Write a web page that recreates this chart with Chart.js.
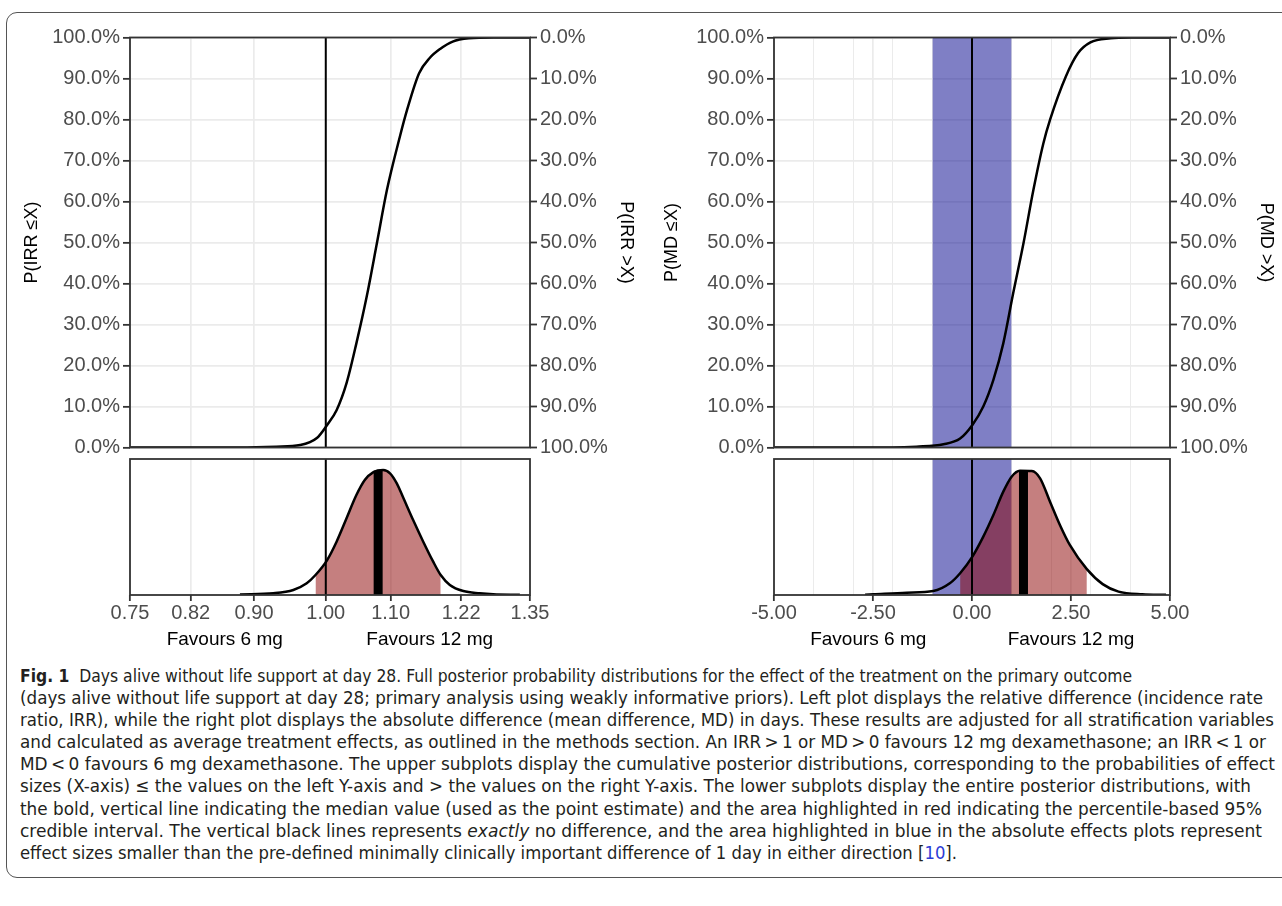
<!DOCTYPE html>
<html>
<head>
<meta charset="utf-8">
<script src="https://cdn.jsdelivr.net/npm/chart.js@4.4.1/dist/chart.umd.min.js"></script>
<style>
  body { margin: 0; background: #fff; width: 1282px; height: 906px; overflow: hidden; position: relative; font-family: "Liberation Sans", Arial, sans-serif; }
  #frame { position: absolute; left: 6px; top: 12px; width: 1300px; height: 864px; border: 1px solid #555; border-radius: 11px; }
  canvas { position: absolute; }
  #caption { position: absolute; left: 20px; top: 665px; font-family: "DejaVu Sans Condensed", "Liberation Sans", sans-serif; font-size: 18px; line-height: 22.1px; color: #231f20; white-space: nowrap; }
  #caption span.line { display: inline-block; transform-origin: 0 50%; }
  #caption .ref { color: #2b3bd6; }
</style>
</head>
<body>
<div id="frame"></div>
<canvas id="cdfIrr" width="640" height="470" style="left:0;top:0"></canvas>
<canvas id="denIrr" width="640" height="200" style="left:0;top:455px"></canvas>
<canvas id="cdfMd" width="640" height="470" style="left:640px;top:0"></canvas>
<canvas id="denMd" width="640" height="200" style="left:640px;top:455px"></canvas>
<div id="caption">
<div><span class="line"><b>Fig. 1</b>&nbsp; Days alive without life support at day 28. Full posterior probability distributions for the effect of the treatment on the primary outcome</span></div>
<div><span class="line">(days alive without life support at day 28; primary analysis using weakly informative priors). Left plot displays the relative difference (incidence rate</span></div>
<div><span class="line">ratio, IRR), while the right plot displays the absolute difference (mean difference, MD) in days. These results are adjusted for all stratification variables</span></div>
<div><span class="line">and calculated as average treatment effects, as outlined in the methods section. An IRR&thinsp;&gt;&thinsp;1 or MD&thinsp;&gt;&thinsp;0 favours 12 mg dexamethasone; an IRR&thinsp;&lt;&thinsp;1 or</span></div>
<div><span class="line">MD&thinsp;&lt;&thinsp;0 favours 6 mg dexamethasone. The upper subplots display the cumulative posterior distributions, corresponding to the probabilities of effect</span></div>
<div><span class="line">sizes (X-axis) ≤ the values on the left Y-axis and &gt; the values on the right Y-axis. The lower subplots display the entire posterior distributions, with</span></div>
<div><span class="line">the bold, vertical line indicating the median value (used as the point estimate) and the area highlighted in red indicating the percentile-based 95%</span></div>
<div><span class="line">credible interval. The vertical black lines represents <i>exactly</i> no difference, and the area highlighted in blue in the absolute effects plots represent</span></div>
<div><span class="line">effect sizes smaller than the pre-defined minimally clinically important difference of 1 day in either direction [<span class="ref">10</span>].</span></div>
</div>
<script>
// IRR (relative difference) - cumulative posterior
const cdfIrrX = [0.75, 0.88, 0.93, 0.963, 0.987, 1.002, 1.016, 1.031, 1.046, 1.062, 1.078, 1.094, 1.115, 1.127, 1.147, 1.165, 1.183, 1.205, 1.234, 1.28, 1.35];
const cdfIrrY = [0, 0, 0.002, 0.006, 0.023, 0.055, 0.091, 0.157, 0.254, 0.368, 0.498, 0.628, 0.758, 0.824, 0.913, 0.95, 0.972, 0.99, 0.998, 1.0, 1.0];
// IRR posterior density (relative height)
const denIrrX = [0.8815, 0.9258, 0.9534, 0.9724, 0.985, 1.002, 1.016, 1.031, 1.046, 1.059, 1.072, 1.088, 1.099, 1.110, 1.121, 1.137, 1.154, 1.171, 1.184, 1.200, 1.224, 1.254, 1.279, 1.33];
const denIrrY = [0.004, 0.0125, 0.037, 0.086, 0.147, 0.257, 0.392, 0.564, 0.735, 0.846, 0.902, 0.919, 0.895, 0.821, 0.711, 0.551, 0.392, 0.245, 0.147, 0.074, 0.029, 0.0125, 0.005, 0.001];
const irrMedian = 1.08, irrMedianDen = 0.915;
const irrCrI = [0.985, 1.184];
const irrTicks = [0.75, 0.82, 0.90, 1.00, 1.10, 1.22, 1.35];

// MD (absolute difference, days)
const cdfMdX = [-5, -2, -1.40, -0.72, -0.30, 0.01, 0.285, 0.54, 0.79, 1.04, 1.30, 1.55, 1.80, 1.97, 2.37, 2.68, 2.99, 3.5, 4.0, 5];
const cdfMdY = [0, 0, 0.002, 0.008, 0.022, 0.055, 0.100, 0.165, 0.254, 0.376, 0.498, 0.628, 0.741, 0.799, 0.905, 0.962, 0.988, 0.998, 1.0, 1.0];
const denMdX = [-2.7, -2.49, -1.65, -0.98, -0.56, -0.30, 0.01, 0.285, 0.54, 0.79, 1.00, 1.21, 1.51, 1.72, 1.97, 2.22, 2.47, 2.9, 3.3, 3.7, 4.3, 4.9];
const denMdY = [0.002, 0.005, 0.017, 0.029, 0.086, 0.160, 0.282, 0.429, 0.588, 0.760, 0.870, 0.914, 0.912, 0.858, 0.686, 0.515, 0.368, 0.19, 0.08, 0.025, 0.005, 0.001];
const mdMedian = 1.30, mdMedianDen = 0.914;
const mdCrI = [-0.30, 2.90];
const mdBand = [-1, 1];
const mdTicks = [-5, -2.5, 0, 2.5, 5];
const mdMinor = [-4, -3, -2, -1, 1, 2, 3, 4];

const favourLabels = ["Favours 6 mg", "Favours 12 mg"];
const irrFavourAt = [0.862, 1.165];
const mdFavourAt = [-2.62, 2.50];

// right edge of each caption line in the figure
const captionRight = [1132, 1263, 1274, 1266, 1275, 1251, 1262, 1262, 957];

const BLUE = "rgba(0,0,139,0.5)";
const RED = "rgba(139,0,0,0.5)";
const GRID = "#ebebeb";
const AXIS = "#333333";
const TICKFONT = { size: 20 };

Chart.defaults.font.family = "'Liberation Sans', Arial, sans-serif";
Chart.defaults.animation = false;
Chart.defaults.responsive = false;
Chart.defaults.plugins.legend.display = false;
Chart.defaults.plugins.tooltip.enabled = false;

const pts = (xs, ys) => xs.map((x, i) => ({ x: x, y: ys[i] }));

//draw the panel border on top
const panelBorder = {
  id: "panelBorder",
  afterDatasetsDraw(chart) {
    const { ctx, chartArea: a } = chart;
    ctx.save();
    ctx.strokeStyle = AXIS;
    ctx.lineWidth = 1.8;
    ctx.strokeRect(a.left, a.top, a.right - a.left, a.bottom - a.top);
    ctx.restore();
  }
};

function xScale(p, showLabels) {
  const grid = p.major.concat(p.minor).sort((a, b) => a - b);
  return {
    type: p.log ? "logarithmic" : "linear",
    min: p.major[0],
    max: p.major[p.major.length - 1],
    weight: 0,
    afterBuildTicks: (s) => { s.ticks = grid.map((v) => ({ value: v })); },
    afterFit: (s) => { s.height = showLabels ? 30 : 0; },
    border: { display: false },
    grid: {
      color: GRID,
      lineWidth: (c) => (p.major.includes(c.tick.value) ? 1.7 : 1.0),
      drawTicks: showLabels,
      tickLength: 6,
      tickWidth: 1.8,
      tickColor: (c) => (p.major.includes(c.tick.value) ? AXIS : "rgba(0,0,0,0)")
    },
    ticks: {
      display: showLabels,
      autoSkip: false,
      maxRotation: 0,
      padding: 0,
      color: "#4d4d4d",
      font: TICKFONT,
      callback: (v) => (p.major.includes(v) ? v.toFixed(2) : "")
    }
  };
}

function cdfChart(id, p) {
  const datasets = [];
  if (p.band) {
    datasets.push({ data: [{ x: p.band[0], y: 1 }, { x: p.band[1], y: 1 }], fill: "origin", backgroundColor: BLUE, borderWidth: 0, pointRadius: 0, order: 5 });
  }
  datasets.push({ data: pts(p.xs, p.ys), borderColor: "#000", borderWidth: 2.5, pointRadius: 0, cubicInterpolationMode: "monotone", fill: false, order: 2 });
  datasets.push({ data: [{ x: p.zero, y: 0 }, { x: p.zero, y: 1 }], borderColor: "#000", borderWidth: 2, pointRadius: 0, fill: false, order: 1 });

  return new Chart(document.getElementById(id), {
    type: "line",
    data: { datasets: datasets },
    plugins: [panelBorder],
    options: {
      parsing: false,
      layout: { padding: { left: 0, right: 0, top: 37.5, bottom: 22.5 } },
      scales: {
        x: xScale(p, false),
        y: {
          position: "left",
          min: 0, max: 1,
          afterFit: (s) => { s.width = p.leftW; },
          border: { display: false },
          grid: {
            color: GRID,
            lineWidth: (c) => (Math.round(c.tick.value * 100) % 10 === 0 ? 1.7 : 1.0),
            tickLength: 7,
            tickWidth: 1.8,
            tickColor: (c) => (Math.round(c.tick.value * 100) % 10 === 0 ? AXIS : "rgba(0,0,0,0)")
          },
          ticks: {
            stepSize: 0.05,
            padding: 3,
            color: "#4d4d4d",
            font: TICKFONT,
            callback: (v) => (Math.round(v * 100) % 10 === 0 ? (v * 100).toFixed(1) + "%" : "")
          },
          title: { display: true, text: p.leftTitle, color: "#000", font: { size: 18 }, padding: { top: 21, bottom: 0 } }
        },
        y2: {
          position: "right",
          min: 0, max: 1,
          reverse: true,
          afterFit: (s) => { s.width = 110; },
          border: { display: false },
          grid: { drawOnChartArea: false, tickLength: 7, tickWidth: 1.8, tickColor: AXIS },
          ticks: {
            stepSize: 0.1,
            padding: 3,
            color: "#4d4d4d",
            font: TICKFONT,
            callback: (v) => (v * 100).toFixed(1) + "%"
          },
          title: { display: true, text: p.rightTitle, color: "#000", font: { size: 18 }, padding: { top: 3, bottom: 0 } }
        }
      }
    }
  });
}

function densityChart(id, p) {
  const curve = pts(p.xs, p.ys);
  const cri = curve.filter((d) => d.x >= p.cri[0] && d.x <= p.cri[1]);
  const datasets = [];
  if (p.band) {
    datasets.push({ data: [{ x: p.band[0], y: 1 }, { x: p.band[1], y: 1 }], fill: "origin", backgroundColor: BLUE, borderWidth: 0, pointRadius: 0, order: 6 });
  }
  datasets.push({ data: cri, fill: "origin", backgroundColor: RED, borderWidth: 0, pointRadius: 0, cubicInterpolationMode: "monotone", order: 5 });
  datasets.push({ data: [{ x: p.zero, y: 0 }, { x: p.zero, y: 1 }], borderColor: "#000", borderWidth: 2, pointRadius: 0, fill: false, order: 4 });
  datasets.push({ data: curve, borderColor: "#000", borderWidth: 2.5, pointRadius: 0, cubicInterpolationMode: "monotone", fill: false, order: 3 });
  datasets.push({ data: [{ x: p.median, y: 0 }, { x: p.median, y: p.medianDen }], borderColor: "#000", borderWidth: 9, borderCapStyle: "butt", pointRadius: 0, fill: false, order: 2 });

  const favour = {
    type: p.log ? "logarithmic" : "linear",
    position: "bottom",
    weight: 1,
    min: p.major[0],
    max: p.major[p.major.length - 1],
    afterBuildTicks: (s) => { s.ticks = p.favourAt.map((v) => ({ value: v })); },
    afterFit: (s) => { s.height = 30; },
    border: { display: false },
    grid: { display: false, drawTicks: false },
    ticks: { autoSkip: false, maxRotation: 0, padding: 3, color: "#000", font: { size: 19 }, callback: (v, i) => favourLabels[i] }
  };

  return new Chart(document.getElementById(id), {
    type: "line",
    data: { datasets: datasets },
    plugins: [panelBorder],
    options: {
      parsing: false,
      layout: { padding: { left: 0, right: 110, top: 4, bottom: 0 } },
      scales: {
        x: xScale(p, true),
        x2: favour,
        y: {
          min: 0, max: 1,
          afterFit: (s) => { s.width = p.leftW; },
          border: { display: false },
          grid: { display: false },
          ticks: { display: false }
        }
      }
    }
  });
}

const irrPanel = { log: true, major: irrTicks, minor: [], zero: 1, leftW: 130, favourAt: irrFavourAt };
const mdPanel = { log: false, major: mdTicks, minor: mdMinor, zero: 0, leftW: 134, band: mdBand, favourAt: mdFavourAt };

cdfChart("cdfIrr", Object.assign({}, irrPanel, { xs: cdfIrrX, ys: cdfIrrY, leftTitle: "P(IRR ≤X)", rightTitle: "P(IRR >X)" }));
densityChart("denIrr", Object.assign({}, irrPanel, { xs: denIrrX, ys: denIrrY, cri: irrCrI, median: irrMedian, medianDen: irrMedianDen }));
cdfChart("cdfMd", Object.assign({}, mdPanel, { xs: cdfMdX, ys: cdfMdY, leftTitle: "P(MD ≤X)", rightTitle: "P(MD >X)" }));
densityChart("denMd", Object.assign({}, mdPanel, { xs: denMdX, ys: denMdY, cri: mdCrI, median: mdMedian, medianDen: mdMedianDen }));

// stretch each caption line to the width it has in the figure
document.querySelectorAll("#caption span.line").forEach((el, i) => {
  const w = el.getBoundingClientRect().width;
  el.style.transform = "scaleX(" + ((captionRight[i] - 20) / w) + ")";
});
</script>
</body>
</html>
